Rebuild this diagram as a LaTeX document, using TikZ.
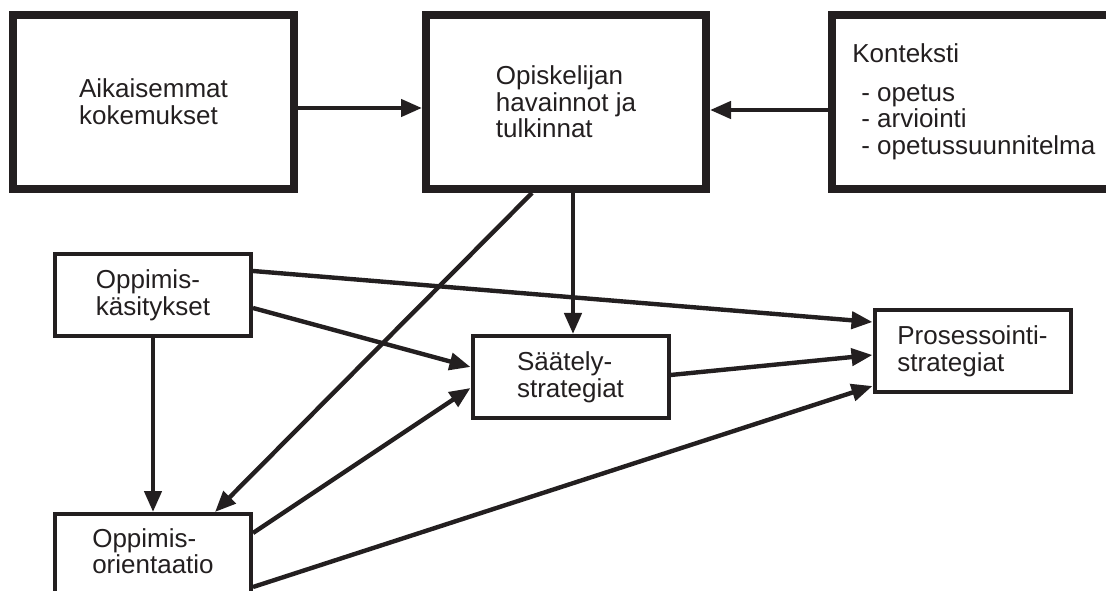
\documentclass[tikz,border=0pt]{standalone}
\usepackage{fontspec}
\setmainfont{Liberation Sans}
\usetikzlibrary{arrows.meta,calc}
\definecolor{ink}{RGB}{35,31,32}
\begin{document}
\begin{tikzpicture}[x=0.75pt,y=-0.75pt,
  every node/.style={font=\fontsize{19.5}{20}\selectfont, text=ink, inner sep=0pt},
  bigbox/.style={draw=ink, line width=6pt, minimum height=130.5pt, align=left},
  smallbox/.style={draw=ink, line width=3pt, minimum width=147pt, minimum height=61.5pt, align=left},
  conn/.style={draw=ink, line width=3.3pt, -{Triangle[length=15.75pt,width=12.75pt]}}]
  \useasboundingbox (0,0) rectangle (1106,591);

  % upper row: thick boxes
  \node[bigbox, minimum width=210.75pt] (A) at (153.5,102) {Aikaisemmat\\kokemukset};
  \node[bigbox, minimum width=210pt] (B) at (566,102) {Opiskelijan\\havainnot ja\\tulkinnat};
  \node[bigbox, minimum width=223.5pt] (C) at (981,102) {};
  \node[anchor=base west] (ctitle) at (852,63) {Konteksti};
  \node[anchor=west, align=left] (clist) at (861,122) {- opetus\\- arviointi\\- opetussuunnitelma};

  % lower boxes
  \node[smallbox] (D) at (153,295) {Oppimis-\\käsitykset};
  \node[smallbox] (E) at (570.5,377) {Säätely-\\strategiat};
  \node[smallbox] (P) at (972.5,351) {Prosessointi-\\strategiat};
  \node[smallbox] (F) at (153,555) {\raisebox{2.6pt}{\begin{tabular}{@{}l@{}}Oppimis-\\orientaatio\end{tabular}}};

  % connectors
  \draw[conn] ($(A.east)+(0,6)$) -- ($(B.west)+(0,6)$);
  \draw[conn] ($(C.west)+(0,8)$) -- ($(B.east)+(0,8)$);
  \draw[conn] ($(B.south)+(7,0)$) -- ($(E.north)+(2.5,0)$);
  \draw[conn] ($(B.south)+(-34,0)$) -- ($(F.north)+(62,0)$);
  \draw[conn] (D.south) -- (F.north);
  \draw[conn] ($(D.east)+(0,13)$) -- ($(E.west)+(0,-10)$);
  \draw[conn] ($(D.east)+(0,-24)$) -- ($(P.west)+(0,-29)$);
  \draw[conn] ($(E.east)+(0,-2)$) -- ($(P.west)+(0,4)$);
  \draw[conn] ($(F.east)+(0,-22)$) -- ($(E.west)+(0,11)$);
  \draw[conn] ($(F.east)+(0,32)$) -- ($(P.west)+(0,35)$);
\end{tikzpicture}
\end{document}
